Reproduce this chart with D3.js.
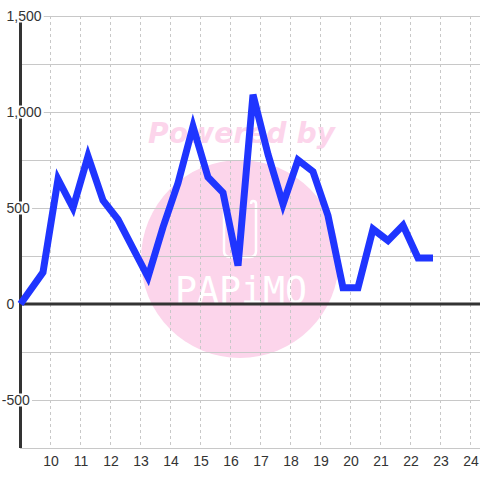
<!DOCTYPE html>
<html><head><meta charset="utf-8">
<script src="https://cdn.jsdelivr.net/npm/d3@7"></script>
<style>html,body{margin:0;padding:0;background:#fff;} svg{display:block}</style>
</head><body><svg id="c" width="480" height="480"></svg>
<script>
const times = [9, 9.75, 10.25, 10.75, 11.25, 11.75, 12.25, 12.75, 13.25, 13.75, 14.25, 14.75, 15.25, 15.75,
  16.25, 16.75, 17.25, 17.75, 18.25, 18.75, 19.25, 19.75, 20.25, 20.75, 21.25, 21.75, 22.25, 22.75];
const values = [0, 165, 650, 500, 770, 540, 440, 290, 140, 400, 630, 925, 660, 580,
  200, 1090, 780, 520, 750, 690, 460, 85, 85, 390, 330, 410, 240, 240];
const xTicks = [10, 11, 12, 13, 14, 15, 16, 17, 18, 19, 20, 21, 22, 23, 24];
const yTicks = [-500, 0, 500, 1000, 1500];
const yGrid = [-750, -500, -250, 0, 250, 500, 750, 1000, 1250, 1500];

const svg = d3.select('#c');
const W = 480, H = 480;
const x = d3.scaleLinear().domain([9, 24.3167]).range([20.5, 480]);
const y = d3.scaleLinear().domain([-750, 1500]).range([448, 16]);
const pink = '#fcd5eb';
const font = "'Liberation Sans', Arial, sans-serif";

svg.append('rect').attr('width', W).attr('height', H).attr('fill', '#fff');

// watermark
const wm = svg.append('g');
wm.append('circle').attr('cx', 240).attr('cy', 259).attr('r', 99).attr('fill', pink);
wm.append('text').attr('x', 148).attr('y', 143)
  .attr('font-family', "'DejaVu Sans', Verdana, sans-serif").attr('font-weight', 'bold')
  .attr('font-style', 'italic').attr('font-size', 28).attr('fill', pink)
  .attr('textLength', 187).attr('lengthAdjust', 'spacingAndGlyphs').text('Powered by');
wm.append('path')
  .attr('d', 'M224,207 V251 Q224,257 230,257 H250 Q256,257 256,251 V204 Q256,201 253,201 Q251,201 251,204')
  .attr('fill', 'none').attr('stroke', '#fff').attr('stroke-width', 2.5);
wm.append('text').attr('x', 175).attr('y', 303)
  .attr('font-family', "'DejaVu Sans Mono', monospace").attr('font-size', 38)
  .attr('fill', '#fff').attr('textLength', 132).attr('lengthAdjust', 'spacingAndGlyphs').text('PAPiMO');

// horizontal grid
svg.append('g').selectAll('line').data(yGrid).join('line')
  .attr('x1', 20).attr('x2', W).attr('y1', d => y(d)).attr('y2', d => y(d))
  .attr('stroke', '#c8c8c8').attr('stroke-width', 1).attr('shape-rendering', 'crispEdges');

// vertical dashed grid
svg.append('g').selectAll('line').data(xTicks).join('line')
  .attr('x1', d => x(d)).attr('x2', d => x(d)).attr('y1', y(1500)).attr('y2', y(-750))
  .attr('stroke', '#c8c8c8').attr('stroke-width', 1).attr('stroke-dasharray', '3,3')
  .attr('shape-rendering', 'crispEdges');

// zero line
svg.append('line').attr('x1', 20).attr('x2', W).attr('y1', y(0)).attr('y2', y(0))
  .attr('stroke', '#333').attr('stroke-width', 3);
// y axis line
svg.append('line').attr('x1', x(9)).attr('x2', x(9)).attr('y1', y(1500)).attr('y2', y(-750))
  .attr('stroke', '#333').attr('stroke-width', 3);

// data line
const line = d3.line().x((d, i) => x(times[i])).y(d => y(d));
svg.append('path').datum(values).attr('d', line)
  .attr('fill', 'none').attr('stroke', '#1f35ff').attr('stroke-width', 7)
  .attr('stroke-linejoin', 'miter').attr('stroke-miterlimit', 4);

// y labels with background
const fmt = d3.format(',');
const yl = svg.append('g').selectAll('g').data(yTicks).join('g');
yl.each(function (d) {
  const g = d3.select(this);
  const t = g.append('text').attr('x', 6.5).attr('y', y(d)).attr('dy', '0.35em')
    .attr('font-family', font).attr('font-size', 14).attr('fill', '#333')
    .text(d < 0 ? '-' + fmt(-d) : fmt(d));
  if (d < 0) t.attr('dx', -4.7);
  const b = t.node().getBBox();
  g.insert('rect', 'text').attr('x', b.x - 1).attr('y', y(d) - 6.5).attr('width', b.width + 3).attr('height', 13).attr('fill', '#fff');
});

// x axis labels
const xAxis = d3.axisBottom(x).tickValues(xTicks).tickSize(0).tickPadding(0).tickFormat(d3.format('d'));
const xg = svg.append('g').attr('transform', 'translate(0,' + 455 + ')').call(xAxis);
xg.select('.domain').remove();
xg.selectAll('text').attr('font-family', font).attr('font-size', 14).attr('fill', '#333').attr('dy', '0.75em');
</script></body></html>
